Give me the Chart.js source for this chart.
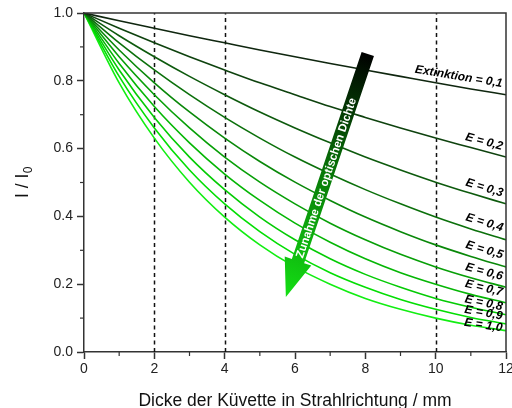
<!DOCTYPE html>
<html>
<head>
<meta charset="utf-8">
<script src="https://cdn.jsdelivr.net/npm/chart.js@4/dist/chart.umd.min.js"></script>
<style>
  html, body { margin: 0; padding: 0; background: #fff; }
  #wrap { width: 512px; height: 408px; }
</style>
</head>
<body>
<div id="wrap"><canvas id="c" width="512" height="408"></canvas></div>
<script>
// Schichtdicke d / mm
const thickness = [0, 1, 2, 3, 4, 5, 6, 7, 8, 9, 10, 11, 12];

// Relative Intensität I/I0 für jede Extinktion (pro 10 mm)
const e01 = [1, 0.977, 0.955, 0.933, 0.912, 0.891, 0.871, 0.851, 0.832, 0.813, 0.794, 0.776, 0.759];
const e02 = [1, 0.955, 0.912, 0.871, 0.832, 0.794, 0.759, 0.724, 0.692, 0.661, 0.631, 0.603, 0.575];
const e03 = [1, 0.933, 0.871, 0.813, 0.759, 0.708, 0.661, 0.617, 0.575, 0.537, 0.501, 0.468, 0.437];
const e04 = [1, 0.912, 0.832, 0.759, 0.692, 0.631, 0.575, 0.525, 0.479, 0.437, 0.398, 0.363, 0.331];
const e05 = [1, 0.891, 0.794, 0.708, 0.631, 0.562, 0.501, 0.447, 0.398, 0.355, 0.316, 0.282, 0.251];
const e06 = [1, 0.871, 0.759, 0.661, 0.575, 0.501, 0.437, 0.380, 0.331, 0.288, 0.251, 0.219, 0.191];
const e07 = [1, 0.851, 0.724, 0.617, 0.525, 0.447, 0.380, 0.324, 0.275, 0.234, 0.200, 0.170, 0.145];
const e08 = [1, 0.832, 0.692, 0.575, 0.479, 0.398, 0.331, 0.275, 0.229, 0.191, 0.158, 0.132, 0.110];
const e09 = [1, 0.813, 0.661, 0.537, 0.437, 0.355, 0.288, 0.234, 0.191, 0.155, 0.126, 0.102, 0.083];
const e10 = [1, 0.794, 0.631, 0.501, 0.398, 0.316, 0.251, 0.200, 0.158, 0.126, 0.100, 0.079, 0.063];

const seriesValues = [e01, e02, e03, e04, e05, e06, e07, e08, e09, e10];
const seriesLabels = ['Extinktion = 0,1', 'E = 0,2', 'E = 0,3', 'E = 0,4', 'E = 0,5',
                      'E = 0,6', 'E = 0,7', 'E = 0,8', 'E = 0,9', 'E = 1,0'];

// Markierte Schichtdicken (gestrichelte Linien)
const markedThickness = [2, 4, 10];

// Achsenbeschriftungen
const xTickValues = [0, 2, 4, 6, 8, 10, 12];
const yTickValues = [0, 0.2, 0.4, 0.6, 0.8, 1.0];
const xTitle = 'Dicke der Küvette in Strahlrichtung / mm';
const arrowText = 'Zunahme der optischen Dichte';

// Pfeil: Anfang und Spitze in Datenkoordinaten
const arrowFrom = { x: 8.07, y: 0.879 };
const arrowTo = { x: 5.74, y: 0.162 };

// Darstellung
const lineColors = ['#0f260f', '#0e420e', '#0d5a0d', '#0b700b', '#098809',
                    '#079f07', '#05b605', '#04cb04', '#03de03', '#12ee12'];
const labelLift = [7, 6, 6, 7, 7, 6, 6, 3.5, 3.5, -1.5];
const FONT = "'Liberation Sans', Arial, sans-serif";
const AXIS = '#333';

const datasets = seriesValues.map((vals, i) => ({
  label: seriesLabels[i],
  data: thickness.map((d, k) => ({ x: d, y: vals[k] })),
  borderColor: lineColors[i],
  borderWidth: 1.6,
  pointRadius: 0,
  cubicInterpolationMode: 'monotone',
  fill: false
}));

const decorPlugin = {
  id: 'decor',
  beforeDatasetsDraw(chart) {
    const { ctx, scales: { x, y } } = chart;
    ctx.save();
    ctx.strokeStyle = '#111';
    ctx.lineWidth = 1.5;
    ctx.setLineDash([4, 3.5]);
    markedThickness.forEach(d => {
      const px = Math.round(x.getPixelForValue(d)) + 0.5;
      ctx.beginPath();
      ctx.moveTo(px, y.getPixelForValue(0));
      ctx.lineTo(px, y.getPixelForValue(1));
      ctx.stroke();
    });
    ctx.restore();
  },
  afterDatasetsDraw(chart) {
    const { ctx, chartArea, scales: { x, y } } = chart;
    ctx.save();

    // Rahmen oben und rechts
    ctx.strokeStyle = AXIS;
    ctx.lineWidth = 1.5;
    ctx.beginPath();
    ctx.moveTo(chartArea.left, chartArea.top);
    ctx.lineTo(chartArea.right, chartArea.top);
    ctx.lineTo(chartArea.right, chartArea.bottom);
    ctx.stroke();

    // Nebenstriche
    ctx.lineWidth = 1.2;
    for (let v = 0.1; v < 1; v += 0.2) {
      const py = y.getPixelForValue(v);
      ctx.beginPath();
      ctx.moveTo(chartArea.left, py);
      ctx.lineTo(chartArea.left - 4, py);
      ctx.stroke();
    }
    for (let d = 1; d < 12; d += 2) {
      const px = x.getPixelForValue(d);
      ctx.beginPath();
      ctx.moveTo(px, chartArea.bottom);
      ctx.lineTo(px, chartArea.bottom + 4);
      ctx.stroke();
    }

    // Pfeil mit Farbverlauf
    const T = { x: x.getPixelForValue(arrowFrom.x), y: y.getPixelForValue(arrowFrom.y) };
    const P = { x: x.getPixelForValue(arrowTo.x), y: y.getPixelForValue(arrowTo.y) };
    const dx = P.x - T.x, dy = P.y - T.y;
    const len = Math.hypot(dx, dy);
    const u = { x: dx / len, y: dy / len };
    const n = { x: -u.y, y: u.x };
    const sh = 6.5, hh = 14, hl = 38;
    const B = { x: P.x - u.x * hl, y: P.y - u.y * hl };
    const grad = ctx.createLinearGradient(T.x, T.y, P.x, P.y);
    grad.addColorStop(0, '#000000');
    grad.addColorStop(0.5, '#087a08');
    grad.addColorStop(1, '#14e014');
    ctx.fillStyle = grad;
    ctx.beginPath();
    ctx.moveTo(T.x + n.x * sh, T.y + n.y * sh);
    ctx.lineTo(B.x + n.x * sh, B.y + n.y * sh);
    ctx.lineTo(B.x + n.x * hh, B.y + n.y * hh);
    ctx.lineTo(P.x, P.y);
    ctx.lineTo(B.x - n.x * hh, B.y - n.y * hh);
    ctx.lineTo(B.x - n.x * sh, B.y - n.y * sh);
    ctx.lineTo(T.x - n.x * sh, T.y - n.y * sh);
    ctx.closePath();
    ctx.fill();

    // Pfeiltext
    const mid = { x: T.x + dx * 0.51, y: T.y + dy * 0.51 };
    ctx.save();
    ctx.translate(mid.x, mid.y);
    ctx.rotate(Math.atan2(-dy, -dx));
    ctx.fillStyle = '#ffffff';
    ctx.font = 'bold 11.5px ' + FONT;
    ctx.textAlign = 'center';
    ctx.textBaseline = 'middle';
    ctx.fillText(arrowText, 0, 0.5);
    ctx.restore();

    // Kurvenbeschriftungen
    ctx.fillStyle = '#000';
    ctx.font = 'italic bold 12px ' + FONT;
    ctx.textAlign = 'right';
    ctx.textBaseline = 'alphabetic';
    const xr = 11.88;
    seriesValues.forEach((vals, i) => {
      const n1 = vals.length - 2, n2 = vals.length - 1;
      const t = (xr - thickness[n1]) / (thickness[n2] - thickness[n1]);
      const v = vals[n1] + (vals[n2] - vals[n1]) * t;
      const px = x.getPixelForValue(xr), py = y.getPixelForValue(v);
      const ax = x.getPixelForValue(thickness[n1] - 0.5), ay = y.getPixelForValue(vals[n1] + (vals[n1] - vals[n2]) * 0.5);
      const ang = Math.atan2(py - ay, px - ax);
      ctx.save();
      ctx.translate(px, py - labelLift[i]);
      ctx.rotate(ang);
      ctx.fillText(seriesLabels[i], 0, 0);
      ctx.restore();
    });

    ctx.restore();
  },
  afterDraw(chart) {
    const { ctx, chartArea } = chart;
    ctx.save();
    ctx.fillStyle = '#111';
    // x-Achsentitel
    ctx.font = '17.5px ' + FONT;
    ctx.textAlign = 'center';
    ctx.textBaseline = 'alphabetic';
    ctx.fillText(xTitle, (chartArea.left + chartArea.right) / 2, 405.5);
    // y-Achsentitel I / I0
    ctx.translate(23, (chartArea.top + chartArea.bottom) / 2);
    ctx.rotate(-Math.PI / 2);
    ctx.font = '17.5px ' + FONT;
    const main = 'I / I';
    const w1 = ctx.measureText(main).width;
    ctx.font = '12px ' + FONT;
    const w2 = ctx.measureText('0').width;
    const start = -(w1 + w2) / 2;
    ctx.textAlign = 'left';
    ctx.textBaseline = 'middle';
    ctx.font = '17.5px ' + FONT;
    ctx.fillText(main, start, 0);
    ctx.font = '12px ' + FONT;
    ctx.fillText('0', start + w1 + 0.5, 6);
    ctx.restore();
  }
};

new Chart(document.getElementById('c'), {
  type: 'line',
  data: { datasets },
  options: {
    responsive: false,
    animation: false,
    layout: { padding: { top: 13, right: 6, left: 0, bottom: 0 } },
    plugins: { legend: { display: false }, tooltip: { enabled: false } },
    scales: {
      x: {
        type: 'linear',
        min: 0, max: 12,
        afterBuildTicks: s => { s.ticks = xTickValues.map(v => ({ value: v })); },
        afterFit: s => { s.height = 56; s.paddingLeft = 0; s.paddingRight = 0; },
        ticks: { color: '#222', font: { family: FONT, size: 14 }, padding: 2, maxRotation: 0, autoSkip: false },
        grid: { drawOnChartArea: false, tickLength: 7, tickColor: AXIS, tickWidth: 1.5 },
        border: { color: AXIS, width: 1.5 }
      },
      y: {
        type: 'linear',
        min: 0, max: 1,
        afterBuildTicks: s => { s.ticks = yTickValues.map(v => ({ value: v })); },
        afterFit: s => { s.width = 84; },
        ticks: { color: '#222', font: { family: FONT, size: 14 }, padding: 4,
                 callback: v => Number(v).toFixed(1) },
        grid: { drawOnChartArea: false, tickLength: 7, tickColor: AXIS, tickWidth: 1.5 },
        border: { color: AXIS, width: 1.5 }
      }
    }
  },
  plugins: [decorPlugin]
});
</script>
</body>
</html>
